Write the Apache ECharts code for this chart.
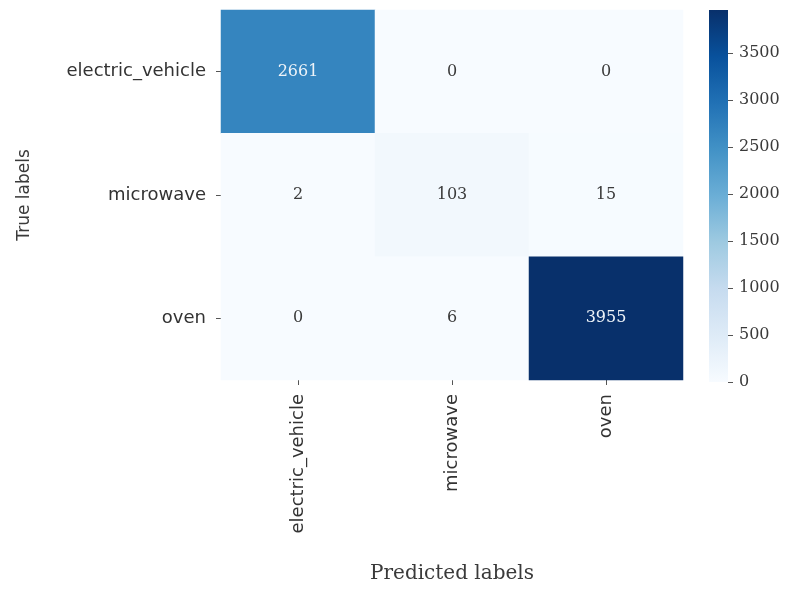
<!DOCTYPE html>
<html>
<head>
<meta charset="utf-8">
<script src="https://cdn.jsdelivr.net/npm/echarts@6/dist/echarts.min.js"></script>
<style>html,body{margin:0;padding:0;background:#fff;}#c{width:790px;height:589px;}</style>
</head>
<body>
<div id="c"></div>
<script>
const predictedLabels = ['electric_vehicle', 'microwave', 'oven'];
const trueLabels = ['electric_vehicle', 'microwave', 'oven'];
const rowElectricVehicle = [2661, 0, 0];
const rowMicrowave = [2, 103, 15];
const rowOven = [0, 6, 3955];
const colorbarTicks = [0, 500, 1000, 1500, 2000, 2500, 3000, 3500];
const blues = ['#f7fbff','#deebf7','#c6dbef','#9ecae1','#6baed6','#4292c6','#2171b5','#08519c','#08306b'];

const rows = [rowElectricVehicle, rowMicrowave, rowOven];
const data = [];
rows.forEach((r, yi) => r.forEach((v, xi) => data.push([xi, yi, v])));
const maxV = Math.max(...rows.flat());

const chart = echarts.init(document.getElementById('c'));
chart.setOption({
  backgroundColor: '#fff',
  animation: false,
  grid: [
    {left: 221, top: 10, width: 462, height: 372},
    {left: 709, top: 10, width: 19, height: 372}
  ],
  xAxis: [
    {
      type: 'category', data: predictedLabels, gridIndex: 0,
      name: 'Predicted labels', nameLocation: 'middle', nameGap: 184,
      nameTextStyle: {fontFamily: 'DejaVu Serif', fontSize: 20, color: '#3a3a3a'},
      axisLine: {show: false},
      axisTick: {show: true, alignWithLabel: true, length: 5, lineStyle: {color: '#555'}},
      axisLabel: {rotate: 90, fontFamily: 'DejaVu Sans', fontSize: 18, color: '#333', margin: 14},
      splitLine: {show: false}
    },
    {type: 'category', data: [''], gridIndex: 1, show: false}
  ],
  yAxis: [
    {
      type: 'category', data: trueLabels, gridIndex: 0, inverse: true,
      name: 'True labels', nameLocation: 'middle', nameGap: 188, nameRotate: 90,
      nameTextStyle: {fontFamily: 'DejaVu Sans', fontSize: 17, color: '#3a3a3a'},
      axisLine: {show: false},
      axisTick: {show: true, alignWithLabel: true, length: 5, lineStyle: {color: '#555'}},
      axisLabel: {fontFamily: 'DejaVu Sans', fontSize: 18, color: '#333', margin: 15},
      splitLine: {show: false}
    },
    {
      type: 'value', gridIndex: 1, position: 'right', min: 0, max: maxV,
      axisLine: {show: false},
      axisTick: {show: true, length: 5, lineStyle: {color: '#555'}, customValues: colorbarTicks},
      axisLabel: {fontFamily: 'DejaVu Serif', fontSize: 16, color: '#3a3a3a', margin: 11,
        customValues: colorbarTicks, formatter: v => String(v)},
      splitLine: {show: false}
    }
  ],
  visualMap: {
    show: false, min: 0, max: maxV, dimension: 2, seriesIndex: 0,
    inRange: {color: blues}
  },
  series: [
    {
      type: 'heatmap', xAxisIndex: 0, yAxisIndex: 0,
      data: data.map(d => ({value: d, label: {color: d[2] > maxV / 2 ? '#eef3f8' : '#3a3a3a'}})),
      itemStyle: {borderWidth: 0},
      label: {
        show: true, fontFamily: 'DejaVu Serif', fontSize: 16,
        formatter: p => String(p.value[2])
      }
    },
    {
      type: 'bar', xAxisIndex: 1, yAxisIndex: 1, data: [maxV], barWidth: '100%',
      silent: true,
      itemStyle: {color: new echarts.graphic.LinearGradient(0, 1, 0, 0,
        blues.map((c, i) => ({offset: i / (blues.length - 1), color: c})))}
    }
  ]
});
</script>
</body>
</html>
